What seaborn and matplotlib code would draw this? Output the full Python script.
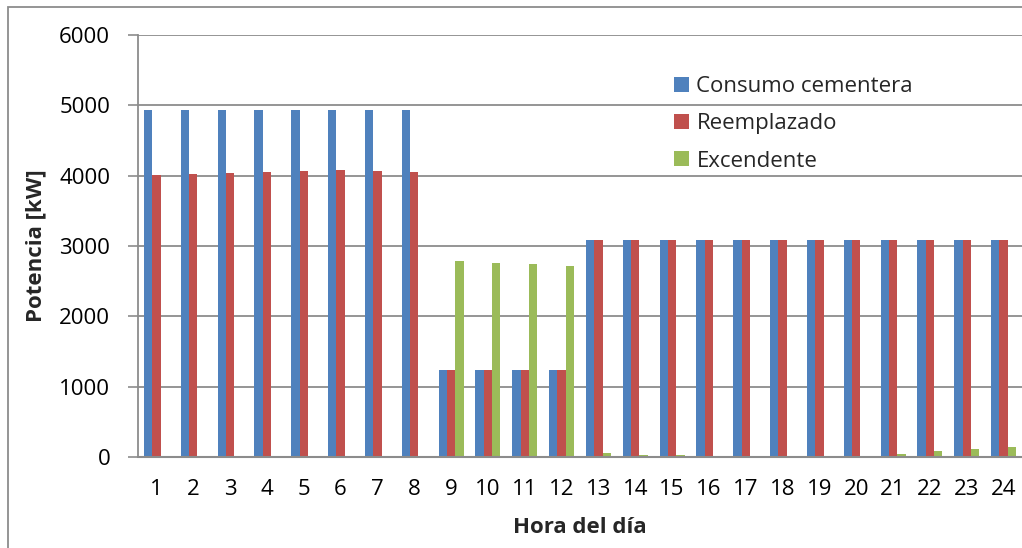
import matplotlib
matplotlib.use("Agg")
import matplotlib.pyplot as plt
from matplotlib.patches import Rectangle
import pandas as pd
import seaborn as sns

horas = list(range(1, 25))
consumo_cementera = [4940, 4940, 4940, 4940, 4940, 4940, 4940, 4940,
                     1240, 1240, 1240, 1240,
                     3090, 3090, 3090, 3090, 3090, 3090, 3090, 3090, 3090, 3090, 3090, 3090]
reemplazado = [4010, 4030, 4045, 4050, 4060, 4075, 4065, 4050,
               1240, 1240, 1240, 1240,
               3090, 3090, 3090, 3090, 3090, 3090, 3090, 3090, 3090, 3090, 3090, 3090]
excendente = [0, 0, 0, 0, 0, 0, 0, 0,
              2785, 2760, 2740, 2710,
              50, 35, 30, 10, 0, 0, 0, 10, 45, 80, 110, 140]

series = ["Consumo cementera", "Reemplazado", "Excendente"]
colores = ["#4F81BD", "#C0504D", "#9BBB59"]

df = pd.DataFrame({
    "Hora": [str(h) for h in horas] * 3,
    "Potencia": consumo_cementera + reemplazado + excendente,
    "Serie": [series[0]] * 24 + [series[1]] * 24 + [series[2]] * 24,
})

sns.set_theme(style="white")
plt.rcParams["font.family"] = ["Open Sans", "DejaVu Sans"]

W, H = 1022, 548
fig = plt.figure(figsize=(W / 100, H / 100), dpi=100)
ax = fig.add_axes([138 / W, 1 - 457 / H, (1022 - 138) / W, (457 - 35) / H])

sns.barplot(data=df, x="Hora", y="Potencia", hue="Serie", hue_order=series,
            palette=colores, width=0.68, gap=0, saturation=1, ax=ax,
            edgecolor="none", linewidth=0, legend=True)

ax.set_xlim(-0.5, 23.5)
ax.set_ylim(0, 6000)
ax.set_yticks(range(0, 6001, 1000))
ax.yaxis.grid(True, color="#8C8C8C", linewidth=1.3)
ax.set_axisbelow(True)

for side in ["top", "right"]:
    ax.spines[side].set_visible(False)
ax.spines["left"].set_color("#8C8C8C")
ax.spines["bottom"].set_color("#8C8C8C")
ax.spines["left"].set_linewidth(1.3)
ax.spines["bottom"].set_linewidth(1.5)

fs = 16
ax.tick_params(axis="y", which="major", left=True, length=7, width=1.2,
               color="#8C8C8C", pad=13, labelsize=fs, labelcolor="black")
ax.tick_params(axis="x", bottom=False, length=0, pad=16, labelsize=fs,
               labelcolor="black")

ax.set_ylabel("Potencia [kW]", fontsize=fs, fontweight="bold", labelpad=9)
ax.set_xlabel("Hora del día", fontsize=fs, fontweight="bold", labelpad=12)

ax.legend(loc="upper left", bbox_to_anchor=(0.584, 0.95), frameon=False,
          fontsize=fs, handlelength=0.65, handleheight=0.65,
          handletextpad=0.35, labelspacing=0.73)

# outer chart border (left and top edges visible)
fig.patches.append(Rectangle((8 / W, -0.05), 1.1, 1.05 - 7 / H,
                             transform=fig.transFigure, fill=False,
                             edgecolor="#8C8C8C", linewidth=1.3))

fig.savefig("out.png", dpi=100)
